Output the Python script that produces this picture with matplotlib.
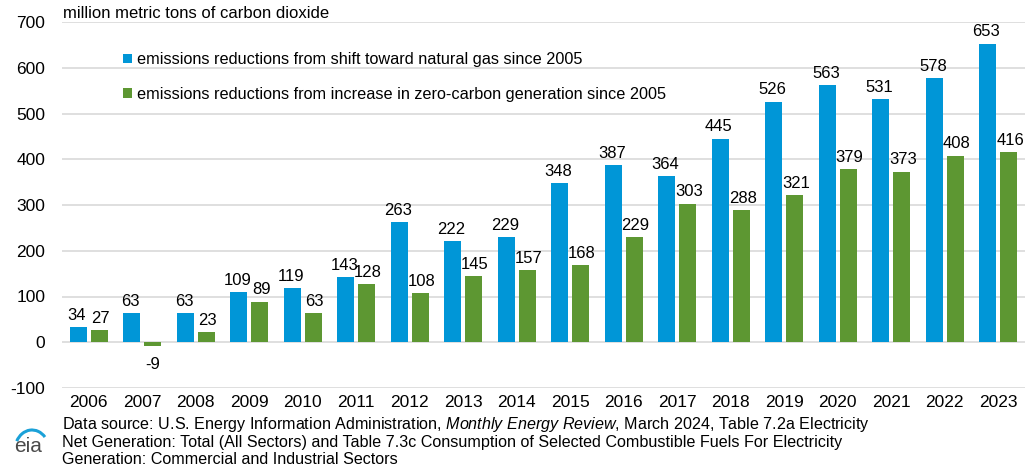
import matplotlib
matplotlib.use("Agg")
import matplotlib.pyplot as plt
import numpy as np
from matplotlib.patches import Arc

years = ["2006", "2007", "2008", "2009", "2010", "2011", "2012", "2013", "2014",
         "2015", "2016", "2017", "2018", "2019", "2020", "2021", "2022", "2023"]
gas_shift = [34, 63, 63, 109, 119, 143, 263, 222, 229, 348, 387, 364, 445, 526, 563, 531, 578, 653]
zero_carbon = [27, -9, 23, 89, 63, 128, 108, 145, 157, 168, 229, 303, 288, 321, 379, 373, 408, 416]
yticks = [-100, 0, 100, 200, 300, 400, 500, 600, 700]

plt.rcParams['font.family'] = ['Liberation Sans', 'DejaVu Sans']
plt.rcParams['mathtext.fontset'] = 'custom'
plt.rcParams['mathtext.rm'] = 'Liberation Sans'
plt.rcParams['mathtext.it'] = 'Liberation Sans:italic'

BLUE = "#0096D7"
GREEN = "#5D9732"

fig = plt.figure(figsize=(10.27, 4.76), dpi=100)
ax = fig.add_axes([62/1027, (476-388)/476, (1025-62)/1027, (388-22)/476])

x = np.arange(len(years))
w = 0.32
off = 0.196
b1 = ax.bar(x - off, gas_shift, w, color=BLUE, zorder=3,
            label="emissions reductions from shift toward natural gas since 2005")
b2 = ax.bar(x + off, zero_carbon, w, color=GREEN, zorder=3,
            label="emissions reductions from increase in zero-carbon generation since 2005")

for bars, vals, dx in ((b1, gas_shift, -1.0), (b2, zero_carbon, 1.0)):
    for rect, v in zip(bars, vals):
        cx = rect.get_x() + rect.get_width() / 2
        if v >= 0:
            ax.annotate(str(v), (cx, v), xytext=(dx, 3), textcoords="offset points",
                        ha="center", va="bottom", fontsize=12, color="#000000")
        else:
            ax.annotate(str(v), (cx, v), xytext=(0, -8), textcoords="offset points",
                        ha="center", va="top", fontsize=12, color="#000000")

ax.set_xlim(-0.5, len(years) - 0.5)
ax.set_ylim(-100, 700)
ax.set_yticks(yticks)
ax.set_yticklabels([str(t) for t in yticks], fontsize=12.5)
ax.set_xticks(x)
ax.set_xticklabels(years, fontsize=12.5)
ax.tick_params(axis="both", length=0)
ax.tick_params(axis="y", pad=12)
ax.tick_params(axis="x", pad=5)
ax.grid(axis="y", color="#d9d9d9", linewidth=1.2, zorder=0)
for s in ax.spines.values():
    s.set_visible(False)

leg = ax.legend(loc="upper left", bbox_to_anchor=(0.057, 0.935), frameon=False,
                fontsize=11.7, handlelength=0.55, handleheight=0.55, handletextpad=0.3,
                labelspacing=1.2, borderaxespad=0)

fig.text(63/1027, 1 - 14/476, "million metric tons of carbon dioxide", fontsize=12,
         ha="left", va="center")

src_x = 62/1027
fig.text(src_x, 1 - 425/476, "Data source: U.S. Energy Information Administration, $\\it{Monthly\\ Energy\\ Review}$, March 2024, Table 7.2a Electricity",
         fontsize=11.6, ha="left", va="center")
fig.text(src_x, 1 - 442/476, "Net Generation: Total (All Sectors) and Table 7.3c Consumption of Selected Combustible Fuels For Electricity",
         fontsize=11.6, ha="left", va="center")
fig.text(src_x, 1 - 459/476, "Generation: Commercial and Industrial Sectors",
         fontsize=11.6, ha="left", va="center")

# eia logo
fig.text(28/1027, 1 - 446/476, "eia", fontsize=15, color="#4a4a4a", ha="center", va="center")
lax = fig.add_axes([0, 1 - 460/476, 60/1027, 50/476])
lax.set_xlim(0, 60)
lax.set_ylim(0, 50)
lax.axis("off")
lax.add_patch(Arc((32, 10), 34, 40, theta1=45, theta2=150, color="#1BA1D8", linewidth=2.2))

fig.savefig("out.png", dpi=100)
